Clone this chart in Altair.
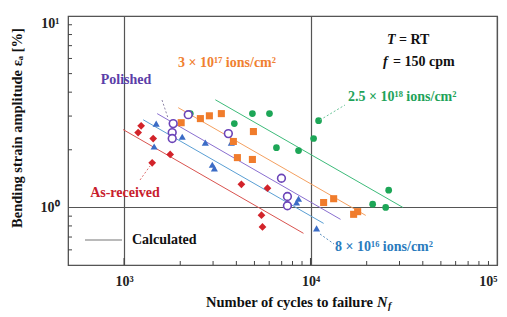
import altair as alt
import pandas as pd

# ---------------- data ----------------
red_N = [1234, 1189, 1432, 1766, 1414, 4256, 5873, 5455, 5523]
red_e = [2.67, 2.46, 2.29, 1.89, 1.71, 1.32, 1.26, 0.91, 0.79]

blue_N = [1486, 2050, 1449, 2726, 3758, 2972, 3048, 8619, 8414, 10770]
blue_e = [2.74, 2.34, 2.08, 2.18, 2.18, 1.67, 1.60, 1.11, 1.06, 0.777]

purple_N = [2208, 1833, 1811, 1811, 3623, 6980, 7514, 7514]
purple_e = [3.05, 2.74, 2.46, 2.29, 2.43, 1.42, 1.14, 1.02]

orange_N = [2023, 2565, 2866, 3323, 4937, 3855, 4051, 4876, 11750, 13300, 17020, 17890]
orange_e = [2.77, 2.91, 3.01, 3.09, 2.49, 2.21, 1.82, 1.78, 1.06, 1.11, 0.92, 0.95]

green_N = [2265, 3900, 4876, 6021, 6561, 8619, 11040, 10380, 26240, 21530, 25290]
green_e = [3.09, 2.74, 3.09, 3.09, 2.05, 1.98, 2.84, 2.29, 1.23, 1.04, 1.00]

# calculated lines (start / end)
calc_cond = ["red", "blue", "purple", "orange", "green"]
calc_N1 = [988, 1265, 1504, 1950, 3085]
calc_e1 = [2.55, 2.87, 3.09, 3.32, 3.65]
calc_N2 = [9162, 11750, 14480, 19770, 31260]
calc_e2 = [0.732, 0.825, 0.866, 0.908, 1.00]

x_minor = [2000, 3000, 4000, 5000, 6000, 7000, 8000, 9000,
           20000, 30000, 40000, 50000, 60000, 70000, 80000, 90000]
y_minor = [0.6, 0.7, 0.8, 0.9, 2, 3, 4, 5, 6, 7, 8, 9]

COL = {"red": "#d2232a", "blue": "#3b6cc6", "purple": "#6b44b8",
       "orange": "#f07c2c", "green": "#1da657"}
LINECOL = {"red": "#d9534f", "blue": "#5a9fd4", "purple": "#8a6fd0",
           "orange": "#f4a060", "green": "#3dbb7a"}

W, H = 429, 249
FONT = "Liberation Serif"

xs = alt.Scale(type="log", domain=[500, 100000], nice=False)
ys = alt.Scale(type="log", domain=[0.5, 10], nice=False)

xaxis = alt.Axis(values=[1000, 10000, 100000],
                 labelExpr="datum.value == 1000 ? '10³' : datum.value == 10000 ? '10⁴' : '10⁵'",
                 grid=True, gridColor="#555", gridWidth=1.2, ticks=False, domain=False,
                 labelFlush=True,
                 labelFont=FONT, labelFontWeight="bold", labelFontSize=14,
                 labelColor="#222", labelPadding=9, title=None)
yaxis = alt.Axis(values=[0.5, 1, 10],
                 labelExpr="datum.value == 1 ? '10⁰' : datum.value == 10 ? '10¹' : ''",
                 grid=True, gridColor="#555", gridWidth=1.2, ticks=False, domain=False,
                 labelFlush=True,
                 labelFont=FONT, labelFontWeight="bold", labelFontSize=14,
                 labelColor="#222", labelPadding=9, title=None)


def X(f):
    return alt.X(f, type="quantitative", scale=xs, axis=xaxis)


def Y(f):
    return alt.Y(f, type="quantitative", scale=ys, axis=yaxis)


# minor ticks (inward)
xt = alt.Chart(pd.DataFrame({"N": x_minor})).mark_rule(color="#444", strokeWidth=1).encode(
    x=X("N"), y=alt.value(H), y2=alt.value(H - 4))
xmaj = alt.Chart(pd.DataFrame({"N": [1000, 10000]})).mark_rule(color="#444", strokeWidth=1.2).encode(
    x=X("N"), y=alt.value(H), y2=alt.value(H - 7))
yt = alt.Chart(pd.DataFrame({"e": y_minor})).mark_rule(color="#444", strokeWidth=1).encode(
    y=Y("e"), x=alt.value(0), x2=alt.value(4))

# calculated lines
cdf = pd.DataFrame({"cond": calc_cond, "N1": calc_N1, "e1": calc_e1, "N2": calc_N2, "e2": calc_e2})
calc = alt.Chart(cdf).mark_rule(strokeWidth=1).encode(
    x=X("N1"), x2="N2:Q",
    y=Y("e1"), y2="e2:Q",
    color=alt.Color("cond:N", scale=alt.Scale(domain=list(LINECOL), range=list(LINECOL.values())), legend=None))


def pts(Ns, es, shape, color, filled=True, size=55):
    df = pd.DataFrame({"N": Ns, "e": es})
    if filled:
        m = alt.Chart(df).mark_point(shape=shape, filled=True, fill=color, color=color, size=size, opacity=1)
    else:
        m = alt.Chart(df).mark_point(shape=shape, filled=False, color=color, strokeWidth=1.6,
                                     fill="white", fillOpacity=1, size=size, opacity=1)
    return m.encode(x=X("N"), y=Y("e"))


p_red = pts(red_N, red_e, "diamond", COL["red"], size=60)
p_blue = pts(blue_N, blue_e, "triangle-up", COL["blue"], size=50)
p_purple = pts(purple_N, purple_e, "circle", COL["purple"], filled=False, size=60)
p_orange = pts(orange_N, orange_e, "square", COL["orange"], size=50)
p_green = pts(green_N, green_e, "circle", COL["green"], size=45)


def txt(s, x, y, color="#111", size=14, align="left", style="normal", angle=0, weight="bold"):
    return alt.Chart(pd.DataFrame({"t": [s]})).mark_text(
        align=align, baseline="middle", font=FONT, fontSize=size, fontWeight=weight,
        fontStyle=style, color=color, angle=angle).encode(
        x=alt.value(x), y=alt.value(y), text="t:N")


def seg(x1, y1, x2, y2, color, dash=(2, 2), width=1):
    return alt.Chart(pd.DataFrame({"a": [0]})).mark_rule(
        color=color, strokeWidth=width, strokeDash=list(dash)).encode(
        x=alt.value(x1), y=alt.value(y1), x2=alt.value(x2), y2=alt.value(y2))


ann = [
    txt("Polished", 58, 64, "#5b3ea8", align="center"),
    seg(94, 84, 100, 102, "#8f86a8"),
    txt("3 × 10¹⁷ ions/cm²", 110, 47, "#f08030"),
    txt("T", 319, 24, style="italic"),
    txt("= RT", 331, 24),
    txt("f", 315, 46, style="italic"),
    txt("= 150 cpm", 325, 46),
    txt("2.5 × 10¹⁸ ions/cm²", 280, 81, "#1ea35a"),
    seg(252, 104, 277, 89, "#6cc59a"),
    txt("As-received", 57, 177, "#c8202c", align="center"),
    seg(72, 164, 82, 150, "#e07070"),
    txt("8 × 10¹⁶ ions/cm²", 267, 231, "#2a7bbd"),
    seg(252, 218, 266, 228, "#5a8fc0"),
    seg(17, 224, 54, 224, "#777", dash=(1, 0), width=1.2),
    txt("Calculated", 64, 224, "#111"),
    # axis titles
    txt("Number of cycles to failure", 305, 287, align="right", size=14.5),
    txt("N", 309, 287, style="italic", size=14.5),
    txt("f", 320, 290, style="italic", size=10),
    txt("Bending strain amplitude εₐ [%]", -50, 112, align="center", angle=270, size=14.5),
]

chart = alt.layer(calc, xt, xmaj, yt, p_red, p_blue, p_orange, p_green, p_purple, *ann).properties(
    width=W, height=H,
    autosize=alt.AutoSizeParams(type="none"),
    padding={"left": 60, "top": 8, "right": 2, "bottom": 50},
    background="white",
).configure_view(stroke="#444", strokeWidth=1.2)

chart.save("out.html", embed_options={"renderer": "svg", "actions": False})
